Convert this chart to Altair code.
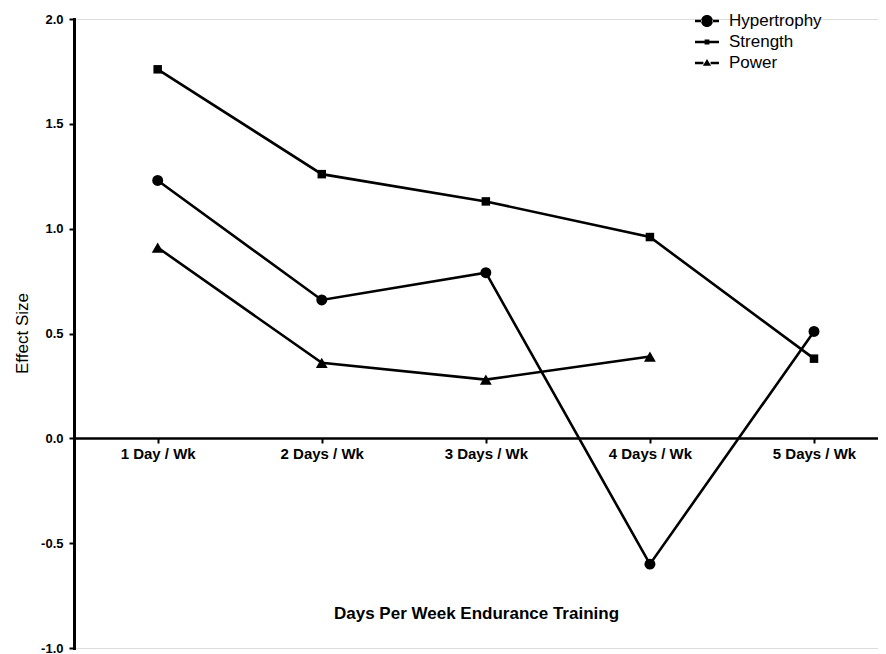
import altair as alt
import pandas as pd

categories = ["1 Day / Wk", "2 Days / Wk", "3 Days / Wk", "4 Days / Wk", "5 Days / Wk"]
day_index = [1, 2, 3, 4, 5]
series_names = ["Hypertrophy", "Strength", "Power"]
hypertrophy = [1.23, 0.66, 0.79, -0.60, 0.51]
strength = [1.76, 1.26, 1.13, 0.96, 0.38]
power = [0.91, 0.36, 0.28, 0.39, None]
y_ticks = [-1.0, -0.5, 0.0, 0.5, 1.0, 1.5, 2.0]

rows = []
for name, vals in zip(series_names, [hypertrophy, strength, power]):
    for d, c, v in zip(day_index, categories, vals):
        if v is not None:
            rows.append({"day": d, "label": c, "series": name, "effect": v})
df = pd.DataFrame(rows)

label_expr = "[" + ",".join("'%s'" % c for c in categories) + "][datum.value - 1]"

W, H = 804, 629
FONT = "Liberation Sans"

x_enc = alt.X(
    "day:Q",
    scale=alt.Scale(domain=[0.49, 5.39], nice=False, zero=False),
    axis=alt.Axis(
        values=day_index,
        labelExpr=label_expr,
        offset=-210,
        title="Days Per Week Endurance Training",
        titleFont=FONT, titleFontSize=17, titleFontWeight="bold", titleColor="black",
        titleY=180, titleBaseline="alphabetic",
        labelFont=FONT, labelFontSize=15, labelFontWeight="bold", labelColor="black",
        labelPadding=3, labelFlush=False, labelOverlap=False,
        tickSize=5, tickWidth=2, tickColor="black",
        domainColor="black", domainWidth=2.5,
        grid=False,
    ),
)
y_enc = alt.Y(
    "effect:Q",
    scale=alt.Scale(domain=[-1, 2], nice=False),
    axis=alt.Axis(
        values=y_ticks,
        labelExpr="replace(format(datum.value, '.1f'), '\u2212', '-')",
        title="Effect Size",
        titleFont=FONT, titleFontSize=17, titleFontWeight="normal", titleColor="black",
        titleX=-47, titleY=314, titleBaseline="alphabetic",
        labelFont=FONT, labelFontSize=13, labelFontWeight="bold", labelColor="black",
        labelPadding=6,
        tickSize=5, tickWidth=2, tickColor="black",
        domainColor="black", domainWidth=3, domainCap="square",
        grid=False,
    ),
)

base = alt.Chart(df)

lines = base.mark_line(color="black", strokeWidth=2.6).encode(
    x=x_enc, y=y_enc, detail="series:N"
)

marker_shapes = ["circle", "square", "triangle-up"]
marker_sizes = [120, 72, 140]
point_layers = [
    base.transform_filter(alt.datum.series == name)
    .mark_point(filled=True, color="black", opacity=1, shape=shp, size=sz)
    .encode(x=x_enc, y=y_enc)
    for name, shp, sz in zip(series_names, marker_shapes, marker_sizes)
]

leg_paths = [
    "M-1,-0.11H-0.45V0.11H-1Z M0.45,-0.11H1V0.11H0.45Z M-0.5,0A0.5,0.5 0 1,0 0.5,0A0.5,0.5 0 1,0 -0.5,0Z",
    "M-1,-0.11H-0.2V0.11H-1Z M0.2,-0.11H1V0.11H0.2Z M-0.2,-0.2H0.2V0.2H-0.2Z",
    "M-1,-0.11H-0.3V0.11H-1Z M0.3,-0.11H1V0.11H0.3Z M0,-0.34L0.34,0.22L-0.34,0.22Z",
]

legend_layer = base.transform_filter("false").mark_point(filled=True, color="black").encode(
    x=x_enc,
    y=y_enc,
    shape=alt.Shape(
        "series:N",
        scale=alt.Scale(domain=series_names, range=leg_paths),
        legend=alt.Legend(
            title=None, orient="none", legendX=621, legendY=-10,
            symbolSize=576, symbolFillColor="black", symbolStrokeWidth=0,
            symbolOpacity=1,
            labelFont=FONT, labelFontSize=17, labelColor="black",
            labelOffset=10, rowPadding=1, padding=0,
        ),
    ),
)

chart = (
    alt.layer(lines, *point_layers, legend_layer)
    .properties(
        width=W, height=H,
        autosize=alt.AutoSizeParams(type="none"),
        padding={"left": 66, "top": 11, "right": 0, "bottom": 8},
    )
    .configure_view(stroke=None)
    .configure_axis(domainColor="black", tickColor="black",
                    tickWidth=2, domainOpacity=1, tickOpacity=1)
    .configure(background="white")
)

chart.save("out.html", embed_options={"renderer": "svg", "actions": False})
